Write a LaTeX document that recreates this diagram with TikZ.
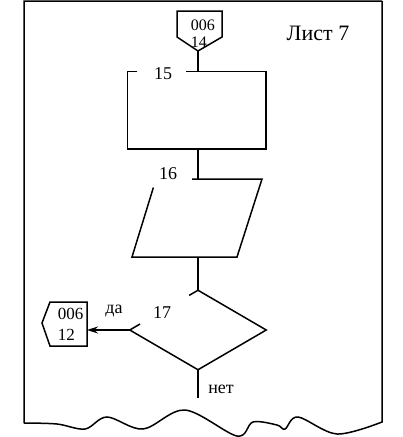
\documentclass[tikz,border=0pt]{standalone}
\usepackage{fontspec}
\setmainfont{Liberation Serif}
\usetikzlibrary{calc,shapes.geometric,arrows.meta}

\begin{document}
\begin{tikzpicture}[x=1pt, y=-1pt, line width=1.5pt, >={Stealth[length=11pt,width=7pt]},
    txt/.style={font=\fontsize{18}{18}\selectfont, inner sep=0pt},
    pagelink/.style={txt, align=left, anchor=west}]
    \useasboundingbox (0,0) rectangle (403,437);

    % Sheet with torn bottom edge
    \draw (382,1) -- (24,1) -- (24,423)
        plot[smooth, tension=0.55] coordinates {(24,423) (57,424) (85,429) (107,417) (143,429) (185,410)
            (237,436) (253,422) (277,425) (285,429) (298,417) (337,434) (382,422)}
        -- (382,1);
    \node[txt, font=\fontsize{22}{22}\selectfont] (sheet) at (318,33) {Лист 7};

    % Off-page connector from sheet 6
    \node[pagelink, font=\fontsize{16}{17}\selectfont] (in14) at (190,34) {006\\14};
    \coordinate (in14tip) at (198,51);
    \draw (in14tip) -- (222,37) -- (222,11) -- (177,11) -- (177,37) -- cycle;

    % Block 15 (process)
    \node[minimum width=137pt, minimum height=76pt, inner sep=0pt] (b15) at (196.5,110) {};
    \node[txt] (n15) at (163,74) {15};
    \draw ($(b15.north west)+(10,0)$) -- (b15.north west) -- (b15.south west)
        -- (b15.south east) -- (b15.north east) -- ($(b15.north west)+(59,0)$);
    \draw (in14tip) -- (in14tip |- b15.north);

    % Block 16 (input/output)
    \coordinate (p16nw) at (156,179);
    \coordinate (p16ne) at (262,179);
    \coordinate (p16se) at (237,257);
    \coordinate (p16sw) at (132,257);
    \node[txt] (n16) at (168,174) {16};
    \draw ($(p16sw)!0.89!(p16nw)$) -- (p16sw) -- (p16se) -- (p16ne) -- ($(p16nw)+(36,0)$);
    \draw (b15.south -| in14tip) -- (in14tip |- p16ne);

    % Block 17 (decision)
    \node[diamond, minimum width=135pt, minimum height=78pt, inner sep=0pt] (d17) at (198,330) {};
    \node[txt] (n17) at (162,313) {17};
    \draw ($(d17.north)!0.13!(d17.west)$) -- (d17.north) -- (d17.east) -- (d17.south)
        -- (d17.west) -- ($(d17.west)!0.15!(d17.north)$);
    \draw (in14tip |- p16se) -- (d17.north);

    % "yes" branch to off-page connector 12
    \node[pagelink, font=\fontsize{17}{21}\selectfont] (out12) at (57,324) {006\\12};
    \coordinate (out12e) at (87,330);
    \draw (87,302) -- (50,302) -- (42,323) -- (50,346) -- (87,346) -- cycle;
    \draw[->] (d17.west) -- (out12e);
    \node[txt] (yes) at (114,311) {да};

    % "no" branch
    \coordinate (no end) at (198,398);
    \draw (d17.south) -- (no end);
    \node[txt] (no) at (221,389) {нет};
\end{tikzpicture}
\end{document}
